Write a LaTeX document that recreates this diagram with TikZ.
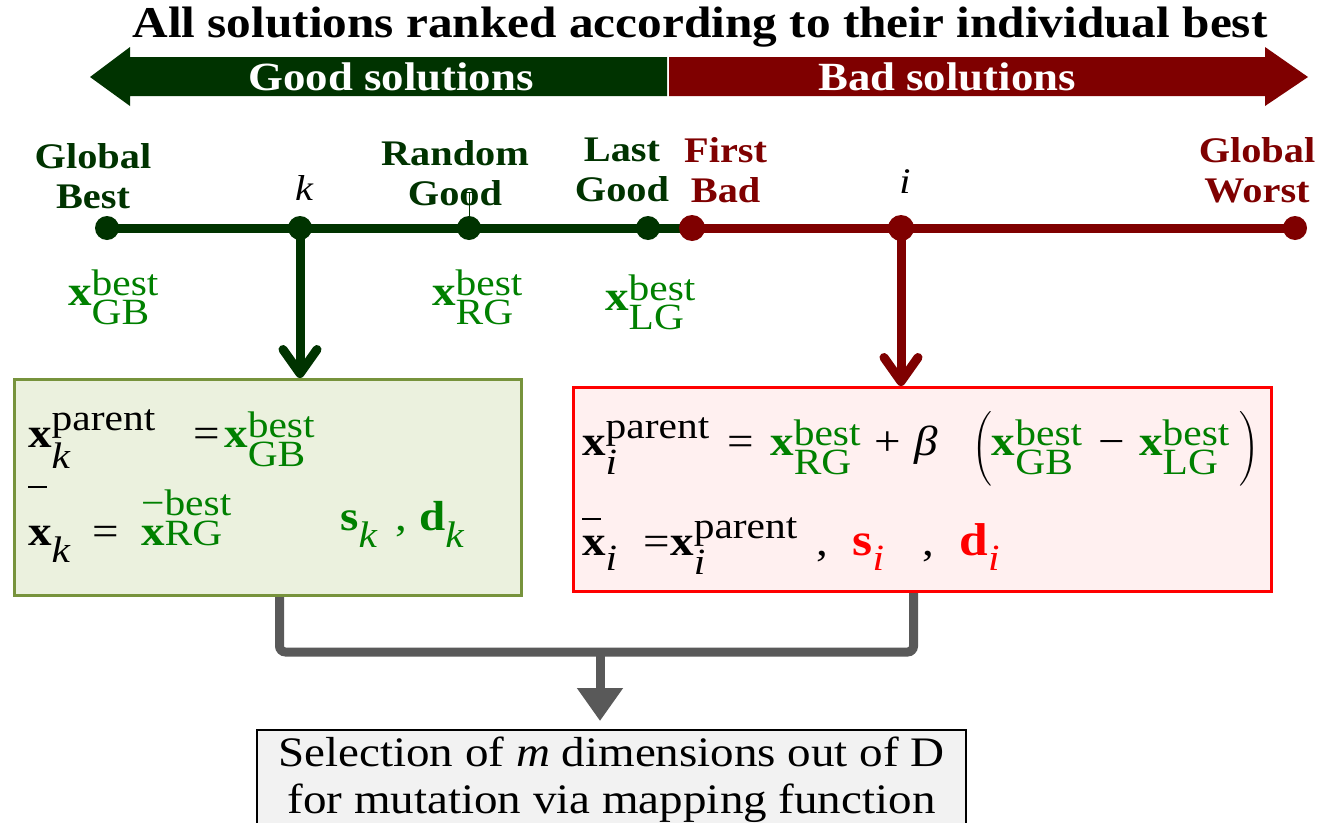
\documentclass[tikz,border=0pt]{standalone}
\usepackage{amsmath}
\usepackage{fontspec}
\setmainfont{Liberation Serif}[FakeStretch=1.12]
\usetikzlibrary{arrows.meta,calc}
\DeclareMathSizes{42}{42}{37}{30}
\DeclareMathSizes{46}{46}{37}{30}

\definecolor{dgreen}{HTML}{003300}
\definecolor{dred}{HTML}{7F0000}
\definecolor{mgreen}{HTML}{008000}
\definecolor{mred}{HTML}{FF0000}
\definecolor{oliveborder}{HTML}{77933C}
\definecolor{lgreenfill}{HTML}{EBF1DE}
\definecolor{lpinkfill}{HTML}{FFF0F0}
\definecolor{connGray}{HTML}{595959}
\definecolor{selfill}{HTML}{F2F2F2}

% bold vector x, italic index, upright script text and text-font operators
\newcommand\bx{\text{\bfseries x}}
\newcommand\ti[1]{\text{\itshape #1}}
\newcommand\tr[1]{\text{#1}}
\newcommand\teq{\text{=}}
\newcommand\tplus{\text{+}}
\newcommand\tminus{\text{−}}
\newcommand\tcomma{\text{,}}
\newcommand\hs[1]{\hspace{#1pt}}
\newcommand\obar[1]{\makebox[0pt][l]{\raisebox{#1pt}{\rule{19pt}{1.6pt}}}}
\newcommand\bigbold[1]{\text{\fontsize{46}{50}\selectfont\bfseries #1}}

\begin{document}
\begin{tikzpicture}[x=1pt,y=-1pt,
  lbl/.style={font=\fontsize{36}{40}\selectfont\bfseries, align=center, inner sep=0},
  idx/.style={font=\fontsize{36}{40}\selectfont\itshape, inner sep=0},
  mth/.style={font=\fontsize{42}{50}\selectfont, inner sep=0},
  dot/.style={circle, minimum size=24, inner sep=0},
  gtl/.style={draw=dgreen, line width=9},
  rtl/.style={draw=dred, line width=9},
  downarr/.style={line width=9, -{Straight Barb[length=24,width=34,round]}},
  conn/.style={draw=connGray, line width=9},
  band/.style={font=\fontsize{40}{44}\selectfont\bfseries, text=white, inner sep=0}]

\useasboundingbox (0,0) rectangle (1320,822);
\clip (0,0) rectangle (1320,822);
\fill[white] (0,0) rectangle (1320,822);

% title and ranking band
\node[font=\fontsize{44}{46}\selectfont\bfseries, inner sep=0] (title) at (700,27) {All solutions ranked according to their individual best};
\fill[dgreen] (667,57) -- (130,57) -- (130,47) -- (90,77) -- (130,106) -- (130,96) -- (667,96) -- cycle;
\fill[dred] (669,57) -- (1265,57) -- (1265,47) -- (1308,77) -- (1265,106) -- (1265,96) -- (669,96) -- cycle;
\node[band] (good) at (391,77) {Good solutions};
\node[band] (bad) at (947,77) {Bad solutions};

% ranking line with its solutions
\coordinate (pgb) at (107,228);
\coordinate (pk) at (300,228);
\coordinate (prg) at (469,228);
\coordinate (plg) at (648,228);
\coordinate (pfb) at (692,228);
\coordinate (pi) at (901,228);
\coordinate (pgw) at (1295,228);
\draw[gtl] (pgb) -- (pfb);
\draw[rtl] (pfb) -- (pgw);
\node[dot, fill=dgreen] (dgb) at (pgb) {};
\node[dot, fill=dgreen] (dk) at (pk) {};
\node[dot, fill=dgreen] (drg) at (prg) {};
\node[dot, fill=dgreen] (dlg) at (plg) {};
\node[dot, fill=dred, minimum size=26] (dfb) at (pfb) {};
\node[dot, fill=dred, minimum size=26] (di) at (pi) {};
\node[dot, fill=dred] (dgw) at (pgw) {};
\draw[dgreen, line width=1] (drg.center) -- (469,192) (462,192) -- (476,192);

% names above the line
\node[lbl, text=dgreen] (tgb) at (93,176) {Global\\Best};
\node[idx] (tk) at (304,188) {k};
\node[lbl, text=dgreen] (trg) at (455,173) {Random\\Good};
\node[lbl, text=dgreen] (tlg) at (622,170) {Last\\Good};
\node[lbl, text=dred, anchor=west] (tfb) at (684,170) {First\\Bad};
\node[idx] (ti) at (905,182) {i};
\node[lbl, text=dred] (tgw) at (1257,170) {Global\\Worst};

% vectors below the line
\node[mth, anchor=base west, text=mgreen] (xgb) at (68,305) {$\bx^{\tr{best}}_{\tr{GB}}$};
\node[mth, anchor=base west, text=mgreen] (xrg) at (432,305) {$\bx^{\tr{best}}_{\tr{RG}}$};
\node[mth, anchor=base west, text=mgreen] (xlg) at (605,310) {$\bx^{\tr{best}}_{\tr{LG}}$};

% update boxes
\node[draw=oliveborder, fill=lgreenfill, line width=3, minimum width=507, minimum height=216, anchor=north west, inner sep=0] (lbox) at (13,378) {};
\node[draw=mred, fill=lpinkfill, line width=3, minimum width=698, minimum height=204, anchor=north west, inner sep=0] (rbox) at (572,386) {};

\draw[downarr, dgreen] (dk.center) -- (dk |- lbox.north);
\draw[downarr, dred] (di.center) -- (di |- rbox.north);

\node[mth, anchor=base west] (lone) at (28,447) {$\bx^{\tr{parent}}_{\ti{k}}\hs{38}\teq\hs{4}{\color{mgreen}\bx^{\tr{best}}_{\tr{GB}}}$};
\node[mth, anchor=base west] (ltwo) at (28,545) {$\obar{57}\bx_{\ti{k}}\hs{22}\teq\hs{22}{\color{mgreen}\rlap{\raisebox{30pt}{\fontsize{37}{37}\selectfont −best}}\bx\text{\fontsize{37}{37}\selectfont RG}}$};
\node[mth, anchor=base west, text=mgreen] (lsd) at (340,530) {$\text{\bfseries s}_{\ti{k}}\hs{18}\tcomma\hs{12}\text{\bfseries d}_{\ti{k}}$};

\node[mth, anchor=base west] (rone) at (582,455) {$\bx^{\tr{parent}}_{\ti{i}}\hs{18}\teq\hs{16}{\color{mgreen}\bx^{\tr{best}}_{\tr{RG}}}\hs{13}\tplus\hs{14}\ti{β}\hs{30}\left(\vrule height 46pt depth 26pt width 0pt{\color{mgreen}\bx^{\tr{best}}_{\tr{GB}}}\hs{16}\tminus\hs{14}{\color{mgreen}\bx^{\tr{best}}_{\tr{LG}}}\hs{10}\right)$};
\node[mth, anchor=base west] (rtwo) at (582,555) {$\obar{35}\bx_{\ti{i}}\hs{26}\teq\bx^{\tr{parent}}_{\ti{i}}\hs{19}\tcomma\hs{24}{\color{mred}\bigbold{s}_{\ti{i}}}\hs{38}\tcomma\hs{25}{\color{mred}\bigbold{d}_{\ti{i}}}$};

% merge into the selection step
\node[draw=black, fill=selfill, line width=2, minimum width=709, anchor=north, inner xsep=0, inner ysep=7, align=center, font=\fontsize{42}{47}\selectfont] (sel) at (611.5,729) {Selection of \textit{m} dimensions out of D\\for mutation via mapping function};
\coordinate (junc) at (600,652);
\draw[conn, rounded corners=6] ([xshift=11.5]lbox.south) |- (junc) -| ([xshift=-9]rbox.south);
\draw[conn, -{Triangle[length=33,width=44]}, shorten >=8] (junc) -- (junc |- sel.north);
\end{tikzpicture}
\end{document}
